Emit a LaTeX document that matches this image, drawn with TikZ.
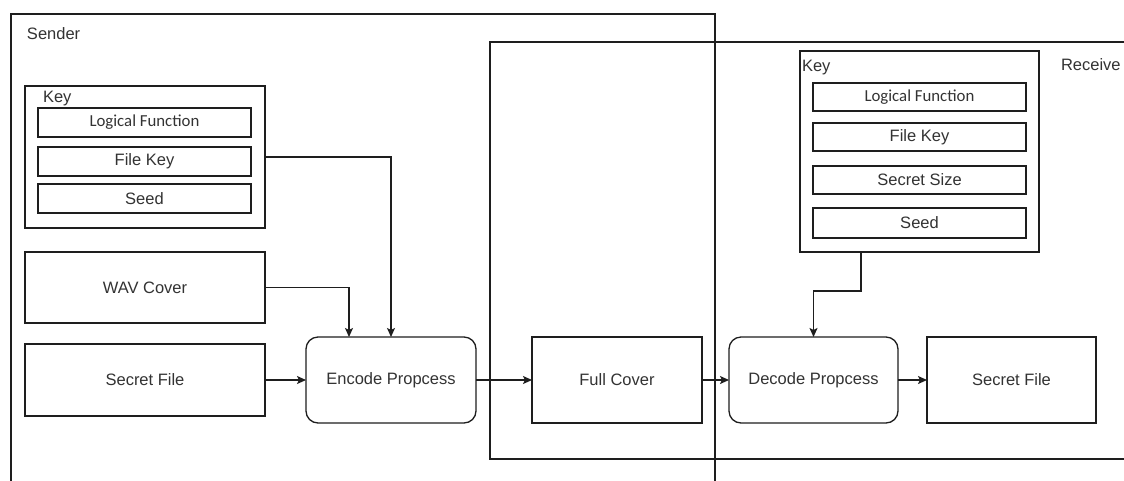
\documentclass[tikz,border=0pt]{standalone}
\usepackage{fontspec}
\setmainfont{Liberation Sans}
\newfontfamily\carlitofont{Carlito}
\usetikzlibrary{arrows.meta}
\definecolor{txt}{HTML}{333333}
\definecolor{ln}{HTML}{1E1E1E}
\begin{document}
\begin{tikzpicture}[x=1pt,y=-1pt,
  every node/.style={inner sep=0pt, outer sep=0pt, text=txt, font=\fontsize{16.5}{19}\selectfont},
  box/.style={draw=ln, line width=1.3pt, rectangle, fill=white},
  rbox/.style={box, rounded corners=12pt},
  lbl/.style={anchor=west},
  arr/.style={draw=ln, line width=1.3pt, -{Stealth[length=9pt,width=8pt,inset=2pt]}},
  conn/.style={draw=ln, line width=1.3pt}]
\useasboundingbox (0,0) rectangle (1124,480);
\clip (0,0) rectangle (1124,480);
\fill[white] (0,0) rectangle (1124,480);
% containers
\draw[conn] (11,14) rectangle (715,520);
\draw[conn] (490,42) rectangle (1160,459);
\node[lbl] (senderlbl) at (27,34) {Sender};
\node[lbl] (receivelbl) at (1061,65) {Receive};
% left key
\node[box, minimum width=240pt, minimum height=142pt] (keyL) at (145,157) {};
\node[lbl] (keyLlbl) at (43,99) {Key};
\node[box, minimum width=213pt, minimum height=29pt, font=\carlitofont\fontsize{16.8}{19}\selectfont] (lfL) at (144.5,122.5) {Logical Function};
\node[box, minimum width=213pt, minimum height=29pt] (fkL) at (144.5,161.5) {File Key};
\node[box, minimum width=213pt, minimum height=29pt] (seedL) at (144.5,198.5) {Seed};
% left column
\node[box, minimum width=240pt, minimum height=71pt] (wav) at (145,287.5) {WAV Cover};
\node[box, minimum width=240pt, minimum height=72pt] (secretL) at (145,380) {Secret File};
\node[rbox, minimum width=170pt, minimum height=86pt] (encode) at (391,380) {Encode Propcess};
\node[box, minimum width=170pt, minimum height=86pt] (full) at (617,380) {Full Cover};
\node[rbox, minimum width=169pt, minimum height=86pt] (decode) at (813.5,380) {Decode Propcess};
\node[box, minimum width=169pt, minimum height=86pt] (secretR) at (1011.5,380) {Secret File};
% right key
\node[box, minimum width=239pt, minimum height=201pt] (keyR) at (919.5,151.5) {};
\node[lbl] (keyRlbl) at (802,68) {Key};
\node[box, minimum width=213pt, minimum height=28pt, font=\carlitofont\fontsize{16.8}{19}\selectfont] (lfR) at (919.5,97) {Logical Function};
\node[box, minimum width=213pt, minimum height=28pt] (fkR) at (919.5,137) {File Key};
\node[box, minimum width=213pt, minimum height=28pt] (ssR) at (919.5,180) {Secret Size};
\node[box, minimum width=213pt, minimum height=30pt] (seedR) at (919.5,223) {Seed};
% connectors
\draw[arr] (keyL.east) -| (encode.north);
\draw[arr] (wav.east) -| ([xshift=-42pt]encode.north);
\draw[arr] (secretL.east) -- (encode.west);
\draw[arr] (encode.east) -- (full.west);
\draw[arr] (full.east) -- (decode.west);
\draw[arr] (decode.east) -- (secretR.west);
\draw[arr] ([xshift=-58.5pt]keyR.south) -- ++(0,39) -| (decode.north);
\end{tikzpicture}
\end{document}
